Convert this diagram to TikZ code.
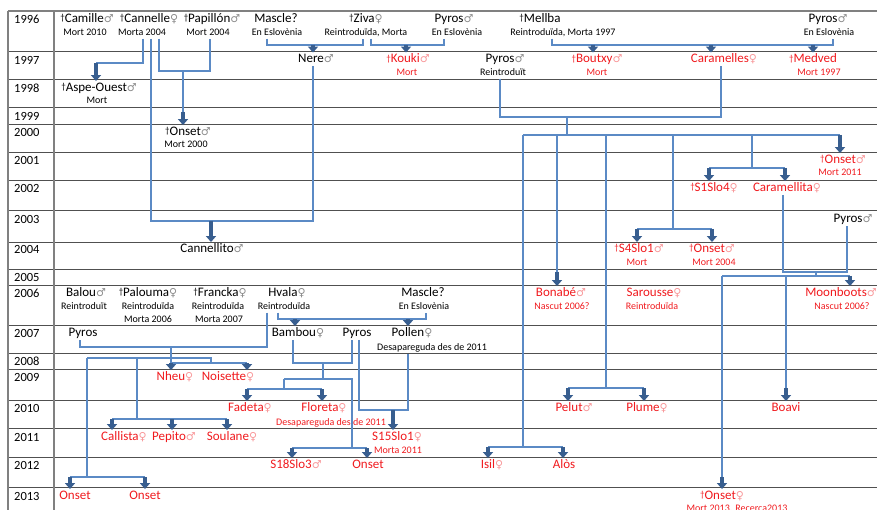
\documentclass[tikz,border=0pt]{standalone}
\usepackage{fontspec}
\setmainfont{Carlito}
\newfontfamily\symf{DejaVu Sans}
\usetikzlibrary{arrows.meta}
\definecolor{lnblue}{RGB}{91,138,197}
\definecolor{arblue}{RGB}{56,94,143}
\definecolor{redt}{RGB}{240,26,30}
\definecolor{gridc}{RGB}{80,80,80}
\newcommand\symM{{\symf\fontsize{11}{11}\selectfont\color{.!45!white}♂}}
\newcommand\symF{{\symf\fontsize{11}{11}\selectfont\color{.!45!white}♀}}
\newcommand\dagg{\raisebox{1.5pt}{\fontsize{9}{9}\selectfont †}}
\tikzset{
  nm/.style={inner sep=1pt, font=\fontsize{13}{13}\selectfont, text height=9pt, text depth=2.5pt},
  rnm/.style={nm, text=redt},
  sb/.style={inner sep=1pt, font=\fontsize{10}{10}\selectfont, text height=7pt, text depth=2pt},
  rsb/.style={sb, text=redt},
  yr/.style={anchor=west, inner sep=0pt, font=\fontsize{12.5}{12.5}\selectfont},
  ln/.style={draw=lnblue, line width=1.1pt},
  arr/.style={draw=arblue, line width=4.5pt, -{Triangle[width=10pt,length=6pt]}},
  gridl/.style={draw=gridc, line width=0.9pt}
}
\begin{document}
\begin{tikzpicture}[x=1pt,y=-1pt]
\useasboundingbox (0,0) rectangle (877,510);
% grid
\draw[gridl, line width=1.2pt, draw=gray] (8,11) -- (877,11);
\foreach \yy in {51,79,107,124,152,180,210,242,269,285,325,353,369,400,428,457,487}
  \draw[gridl] (8,\yy) -- (877,\yy);
\draw[gridl, draw=gray, line width=1.2pt] (8,11) -- (8,510);
\draw[gridl, draw=gray, line width=1.2pt] (54,11) -- (54,510);
% years
\node[yr] (y1996) at (14,19) {1996};
\node[yr] (y1997) at (14,60) {1997};
\node[yr] (y1998) at (14,88) {1998};
\node[yr] (y1999) at (14,116) {1999};
\node[yr] (y2000) at (14,132) {2000};
\node[yr] (y2001) at (14,160) {2001};
\node[yr] (y2002) at (14,188) {2002};
\node[yr] (y2003) at (14,219) {2003};
\node[yr] (y2004) at (14,249) {2004};
\node[yr] (y2005) at (14,277) {2005};
\node[yr] (y2006) at (14,293) {2006};
\node[yr] (y2007) at (14,333) {2007};
\node[yr] (y2008) at (14,361) {2008};
\node[yr] (y2009) at (14,377) {2009};
\node[yr] (y2010) at (14,408) {2010};
\node[yr] (y2011) at (14,437) {2011};
\node[yr] (y2012) at (14,465) {2012};
\node[yr] (y2013) at (14,496) {2013};
% 1996
\node[nm] (camille) at (87,19) {\dagg Camille\symM};
\node[sb] (camilleS) at (85,33) {Mort 2010};
\node[nm] (cannelle) at (149,19) {\dagg Cannelle\symF};
\node[sb] (cannelleS) at (142,33) {Morta 2004};
\node[nm] (papillon) at (212,19) {\dagg Papillón\symM};
\node[sb] (papillonS) at (208,33) {Mort 2004};
\node[nm] (mascleA) at (276,19) {Mascle?};
\node[sb] (mascleAS) at (277,33) {En Eslovènia};
\node[nm] (ziva) at (366,19) {\dagg Ziva\symF};
\node[sb] (zivaS) at (366,33) {Reintroduïda, Morta};
\node[nm] (pyrosA) at (454,19) {Pyros\symM};
\node[sb] (pyrosAS) at (457,33) {En Eslovènia};
\node[nm] (mellba) at (540,19) {\dagg Mellba};
\node[sb] (mellbaS) at (563,33) {Reintroduïda, Morta 1997};
\node[nm] (pyrosB) at (828,19) {Pyros\symM};
\node[sb] (pyrosBS) at (829,33) {En Eslovènia};
% 1997
\node[nm] (nere) at (316,59.5) {Nere\symM};
\node[rnm] (kouki) at (408,59.5) {\dagg Kouki\symM};
\node[rsb] (koukiS) at (407,73) {Mort};
\node[nm] (pyrosC) at (505,59.5) {Pyros\symM};
\node[sb] (pyrosCS) at (503,73) {Reintroduït};
\node[rnm] (boutxy) at (597,59.5) {\dagg Boutxy\symM};
\node[rsb] (boutxyS) at (597,73) {Mort};
\node[rnm] (caramelles) at (724,59.5) {Caramelles\symF};
\node[rnm] (medved) at (813,59.5) {\dagg Medved};
\node[rsb] (medvedS) at (819,73) {Mort 1997};
% 1998-2004
\node[nm] (aspe) at (99,88) {\dagg Aspe-Ouest\symM};
\node[sb] (aspeS) at (97,101) {Mort};
\node[nm] (onsetA) at (188,132) {\dagg Onset\symM};
\node[sb] (onsetAS) at (186,145) {Mort 2000};
\node[rnm] (onsetB) at (843,160) {\dagg Onset\symM};
\node[rsb] (onsetBS) at (840,173) {Mort 2011};
\node[rnm] (s1slo4) at (714,188) {\dagg S1Slo4\symF};
\node[rnm] (caramellita) at (787,188) {Caramellita\symF};
\node[nm] (pyrosD) at (853,219) {Pyros\symM};
\node[nm] (cannellito) at (212,249) {Cannellito\symM};
\node[rnm] (s4slo1) at (639,249) {\dagg S4Slo1\symM};
\node[rsb] (s4slo1S) at (637,263) {Mort};
\node[rnm] (onsetC) at (712,249) {\dagg Onset\symM};
\node[rsb] (onsetCS) at (714,263) {Mort 2004};
% 2006
\node[nm] (balou) at (86,293) {Balou\symM};
\node[sb] (balouS) at (84,307) {Reintroduït};
\node[nm] (palouma) at (148,293) {\dagg Palouma\symF};
\node[sb] (paloumaS) at (148,307) {Reintroduïda};
\node[sb] (paloumaT) at (148,320) {Morta 2006};
\node[nm] (francka) at (220,293) {\dagg Francka\symF};
\node[sb] (franckaS) at (218,307) {Reintroduïda};
\node[sb] (franckaT) at (219,320) {Morta 2007};
\node[nm] (hvala) at (287,293) {Hvala\symF};
\node[sb] (hvalaS) at (284,307) {Reintroduïda};
\node[nm] (mascleB) at (423,293) {Mascle?};
\node[sb] (mascleBS) at (424,307) {En Eslovènia};
\node[rnm] (bonabe) at (561,293) {Bonabé\symM};
\node[rsb] (bonabeS) at (562,307) {Nascut 2006?};
\node[rnm] (sarousse) at (654,293) {Sarousse\symF};
\node[rsb] (sarousseS) at (652,307) {Reintroduïda};
\node[rnm] (moonboots) at (841,293) {Moonboots\symM};
\node[rsb] (moonbootsS) at (842,307) {Nascut 2006?};
% 2007
\node[nm] (pyrosE) at (83,333) {Pyros};
\node[nm] (bambou) at (298,333) {Bambou\symF};
\node[nm] (pyrosF) at (357,333) {Pyros};
\node[nm] (pollen) at (412,333) {Pollen\symF};
\node[sb] (pollenS) at (432,348) {Desapareguda des de 2011};
% 2009-2013
\node[rnm] (nheu) at (175,377) {Nheu\symF};
\node[rnm] (noisette) at (228,377) {Noisette\symF};
\node[rnm] (fadeta) at (250,408) {Fadeta\symF};
\node[rnm] (floreta) at (324,408) {Floreta\symF};
\node[rsb] (floretaS) at (331,423) {Desapareguda des de 2011};
\node[rnm] (pelut) at (574,408) {Pelut\symM};
\node[rnm] (plume) at (647,408) {Plume\symF};
\node[rnm] (boavi) at (786,408) {Boavi};
\node[rnm] (callista) at (124,437) {Callista\symF};
\node[rnm] (pepito) at (174,437) {Pepito\symM};
\node[rnm] (soulane) at (232,437) {Soulane\symF};
\node[rnm] (s15slo1) at (397,437) {S15Slo1\symF};
\node[rsb] (s15slo1S) at (398,451) {Morta 2011};
\node[rnm] (s18slo3) at (296,465) {S18Slo3\symM};
\node[rnm] (onsetD) at (368,465) {Onset};
\node[rnm] (isil) at (492,465) {Isil\symF};
\node[rnm] (alos) at (564,465) {Alòs};
\node[rnm] (onsetE) at (75,496) {Onset};
\node[rnm] (onsetF) at (145,496) {Onset};
\node[rnm] (onsetG) at (722,496) {\dagg Onset\symF};
\node[rsb] (onsetGS) at (737,509) {Mort 2013. Recerca2013};
% anchor helpers
\coordinate (cA) at ([xshift=1pt]cannelleS.south);
\coordinate (cB) at ([xshift=9pt]cannelleS.south);
\coordinate (cC) at ([xshift=17pt]cannelleS.south);
\coordinate (pA) at ([xshift=2pt]papillonS.south);
\coordinate (nA) at ([xshift=-3pt]nere.south);
\coordinate (mA) at ([xshift=-10pt]mascleAS.south);
\coordinate (zA) at ([xshift=-3pt]zivaS.south);
\coordinate (zB) at ([xshift=5pt]zivaS.south);
\coordinate (yA) at ([xshift=-13pt]pyrosAS.south);
\coordinate (mbA) at ([xshift=-11pt]mellbaS.south);
\coordinate (yB) at ([xshift=4pt]pyrosBS.south);
\coordinate (yC) at ([xshift=-3pt]pyrosCS.south);
\coordinate (crA) at ([xshift=-3pt]caramelles.south);
\coordinate (ctA) at ([xshift=-4pt]caramellita.south);
\coordinate (yD) at ([xshift=-6pt]pyrosD.south);
\coordinate (hA) at ([xshift=-17pt]hvalaS.south);
\coordinate (hB) at ([xshift=-6pt]hvalaS.south);
\coordinate (yE) at ([xshift=-3pt]pyrosE.south);
\coordinate (msB) at ([xshift=2pt]mascleBS.south);
\coordinate (bA) at ([xshift=-5pt]bambou.south);
\coordinate (yF) at ([xshift=-5pt]pyrosF.south);
\coordinate (yG) at ([xshift=2pt]pyrosF.south);
\coordinate (plA) at ([xshift=-24pt]pollenS.south);
% junctions
\coordinate (jAspe) at (96,63);
\coordinate (jCito) at (211,221);
\coordinate (jOnA) at (183,71);
\coordinate (jOnAe) at (183,112);
\coordinate (jNere) at (313,45);
\coordinate (jKouki) at (406,45);
\coordinate (jMel) at (593,45);
\coordinate (jCar) at (711,45);
\coordinate (jMed) at (813,45);
\coordinate (jPC) at (567,117);
\coordinate (jBig) at (567,135);
\coordinate (bL) at (523,135);
\coordinate (bR) at (840,135);
\coordinate (bIsil) at (523,447);
\coordinate (aIsil) at (488,447);
\coordinate (aAlos) at (563,447);
\coordinate (bBon) at (557,135);
\coordinate (aBon) at (557,272);
\coordinate (bPel) at (606,135);
\coordinate (jPel) at (606,388);
\coordinate (aPel) at (568,388);
\coordinate (aPlu) at (644,388);
\coordinate (bS4) at (673,135);
\coordinate (jS4) at (673,229);
\coordinate (aS4) at (637,229);
\coordinate (aOnC) at (712,229);
\coordinate (bS1) at (752,135);
\coordinate (jS1) at (752,168);
\coordinate (aS1) at (709,168);
\coordinate (aCt) at (785,168);
\coordinate (jMoon) at (816,272);
\coordinate (jMoonB) at (816,276);
\coordinate (aOnG) at (722,276);
\coordinate (aOnGe) at (722,477);
\coordinate (aMoon) at (850,276);
\coordinate (bBoa) at (786,276);
\coordinate (aBoa) at (786,388);
\coordinate (jHP) at (171,347);
\coordinate (jHPb) at (171,363);
\coordinate (hL) at (87,358);
\coordinate (hR) at (211,358);
\coordinate (hRb) at (211,363);
\coordinate (aNo) at (247,363);
\coordinate (hC) at (137,358);
\coordinate (hCb) at (137,419);
\coordinate (aCal) at (112,419);
\coordinate (aPep) at (172,419);
\coordinate (aSou) at (227,419);
\coordinate (hLb) at (87,477);
\coordinate (aOnE) at (70,477);
\coordinate (aOnF) at (145,477);
\coordinate (jBam) at (295,319);
\coordinate (aPol) at (408,319);
\coordinate (jBP) at (323,363);
\coordinate (jBPb) at (323,379);
\coordinate (fL) at (284,379);
\coordinate (fR) at (352,379);
\coordinate (fLb) at (284,389);
\coordinate (aFad) at (247,389);
\coordinate (aFlo) at (322,389);
\coordinate (fRb) at (352,448);
\coordinate (aS18) at (292,448);
\coordinate (aOnD) at (367,448);
\coordinate (jS15) at (393,410);
% thin connectors
\draw[ln] (cA) |- (jAspe);
\draw[ln] (cB) |- (nA |- jCito) -- (nA);
\draw[ln] (cC) |- (pA |- jOnA) -- (pA);
\draw[ln] (jOnA) -- (jOnAe);
\draw[ln] (mA) |- (zA |- jNere) -- (zA);
\draw[ln] (zB) |- (yA |- jKouki) -- (yA);
\draw[ln] (mbA) |- (yB |- jMel) -- (yB);
\draw[ln] (yC) |- (crA |- jPC) -- (crA);
\draw[ln] (jPC) -- (jBig);
\draw[ln] (bL) -- (bR);
\draw[ln] (bL) -- (bIsil);
\draw[ln] (aIsil) -- (aAlos);
\draw[ln] (bBon) -- (aBon);
\draw[ln] (bPel) -- (jPel);
\draw[ln] (aPel) -- (aPlu);
\draw[ln] (bS4) -- (jS4);
\draw[ln] (aS4) -- (aOnC);
\draw[ln] (bS1) -- (jS1);
\draw[ln] (aS1) -- (aCt);
\draw[ln] (ctA) |- (yD |- jMoon) -- (yD);
\draw[ln] (jMoon) -- (jMoonB);
\draw[ln] (aOnG) -- (aMoon);
\draw[ln] (aOnG) -- (aOnGe);
\draw[ln] (bBoa) -- (aBoa);
\draw[ln] (hA) |- (yE |- jHP) -- (yE);
\draw[ln] (jHP) -- (jHPb) -- (aNo);
\draw[ln] (hL) -- (hR) -- (hRb);
\draw[ln] (hL) -- (hLb);
\draw[ln] (aOnE) -- (aOnF);
\draw[ln] (hC) -- (hCb);
\draw[ln] (aCal) -- (aSou);
\draw[ln] (hB) |- (msB |- jBam) -- (msB);
\draw[ln] (bA) |- (yF |- jBP) -- (yF);
\draw[ln] (jBP) -- (jBPb);
\draw[ln] (fL) -- (fR) -- (fRb);
\draw[ln] (fL) -- (fLb);
\draw[ln] (aFad) -- (aFlo);
\draw[ln] (aS18) -- (aOnD);
\draw[ln] (yG) |- (plA |- jS15) -- (plA);
% block arrows
\draw[arr] (jAspe) -- (jAspe |- aspe.north);
\draw[arr] (jCito) -- (jCito |- cannellito.north);
\draw[arr] (jOnAe) -- (jOnAe |- onsetA.north);
\draw[arr] (jNere) -- (jNere |- nere.north);
\draw[arr] (jKouki) -- (jKouki |- kouki.north);
\draw[arr] (jMel) -- (jMel |- boutxy.north);
\draw[arr] (jCar) -- (jCar |- caramelles.north);
\draw[arr] (jMed) -- (jMed |- medved.north);
\draw[arr] (bR) -- (bR |- onsetB.north);
\draw[arr] (aIsil) -- (aIsil |- isil.north);
\draw[arr] (aAlos) -- (aAlos |- alos.north);
\draw[arr] (aBon) -- (aBon |- bonabe.north);
\draw[arr] (aPel) -- (aPel |- pelut.north);
\draw[arr] (aPlu) -- (aPlu |- plume.north);
\draw[arr] (aS4) -- (aS4 |- s4slo1.north);
\draw[arr] (aOnC) -- (aOnC |- onsetC.north);
\draw[arr] (aS1) -- (aS1 |- s1slo4.north);
\draw[arr] (aCt) -- (aCt |- caramellita.north);
\draw[arr] (aOnGe) -- (aOnGe |- onsetG.north);
\draw[arr] (aBoa) -- (aBoa |- boavi.north);
\draw[arr] (aMoon) -- (aMoon |- moonboots.north);
\draw[arr] (jHPb) -- (jHPb |- nheu.north);
\draw[arr] (aNo) -- (aNo |- noisette.north);
\draw[arr] (aCal) -- (aCal |- callista.north);
\draw[arr] (aPep) -- (aPep |- pepito.north);
\draw[arr] (aSou) -- (aSou |- soulane.north);
\draw[arr] (aOnE) -- (aOnE |- onsetE.north);
\draw[arr] (aOnF) -- (aOnF |- onsetF.north);
\draw[arr] (jBam) -- (jBam |- bambou.north);
\draw[arr] (aPol) -- (aPol |- pollen.north);
\draw[arr] (aFad) -- (aFad |- fadeta.north);
\draw[arr] (aFlo) -- (aFlo |- floreta.north);
\draw[arr] (aS18) -- (aS18 |- s18slo3.north);
\draw[arr] (aOnD) -- (aOnD |- onsetD.north);
\draw[arr] (jS15) -- (jS15 |- s15slo1.north);
\end{tikzpicture}
\end{document}
